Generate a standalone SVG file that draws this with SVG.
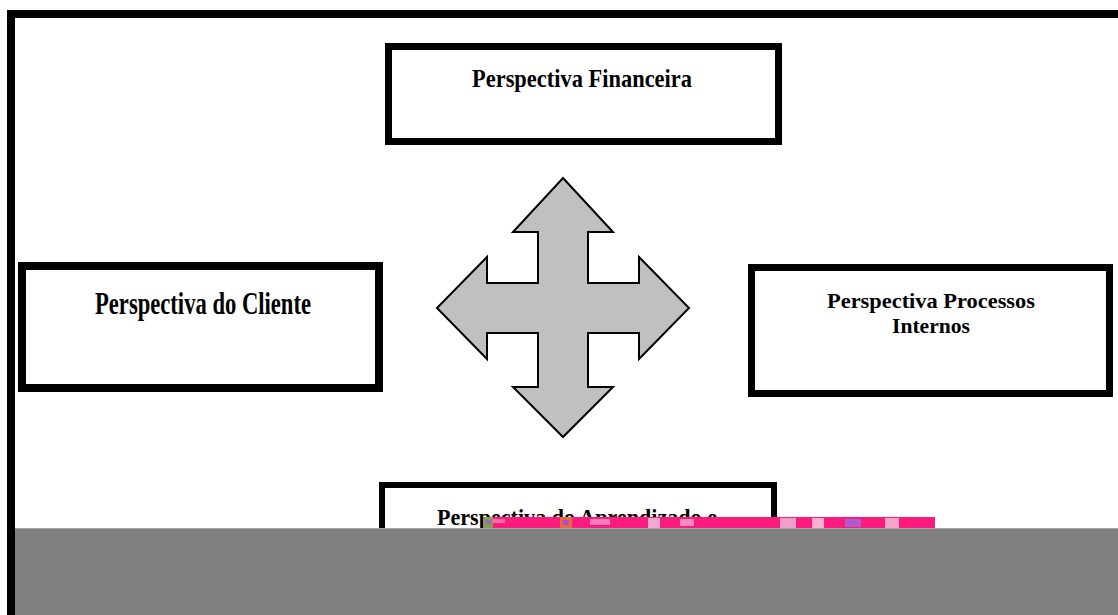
<svg xmlns="http://www.w3.org/2000/svg" width="1118" height="615" viewBox="0 0 1118 615">
<style>
.box{fill:#ffffff;stroke:#000000}
.lbl{font-family:"Liberation Serif","Times New Roman",serif;font-weight:bold;fill:#000000;text-anchor:middle}
</style>
<rect x="0" y="0" width="1118" height="615" fill="#ffffff"/>
<g id="frame">
<rect x="7" y="10" width="1111" height="8" fill="#000000"/>
<rect x="7" y="10" width="8" height="605" fill="#000000"/>
</g>
<g id="connectors">
<path d="M563 178 L613 232 L588 232 L588 283 L639 283 L639 257 L689 308 L639 359 L639 333 L588 333 L588 387 L613 387 L563 437 L513 387 L538 387 L538 333 L487 333 L487 359 L437 308 L487 257 L487 283 L538 283 L538 232 L513 232 Z" fill="#c0c0c0" stroke="#000000" stroke-width="2" stroke-linejoin="miter"/>
</g>
<g id="node-financeira">
<rect class="box" x="388.5" y="46.5" width="390" height="95" stroke-width="7"/>
<text class="lbl" x="582" y="87" font-size="26" textLength="220" lengthAdjust="spacingAndGlyphs">Perspectiva Financeira</text>
</g>
<g id="node-cliente">
<rect class="box" x="22" y="266" width="357" height="122" stroke-width="8"/>
<text class="lbl" x="203" y="314" font-size="31" textLength="216" lengthAdjust="spacingAndGlyphs">Perspectiva do Cliente</text>
</g>
<g id="node-processos">
<rect class="box" x="751.5" y="267.5" width="358" height="126" stroke-width="7"/>
<text class="lbl" x="931" y="308" font-size="22" textLength="208" lengthAdjust="spacingAndGlyphs">Perspectiva Processos</text>
<text class="lbl" x="931" y="333" font-size="22" textLength="78" lengthAdjust="spacingAndGlyphs">Internos</text>
</g>
<g id="node-aprendizado">
<rect class="box" x="382" y="485" width="392" height="110" stroke-width="6"/>
<text class="lbl" x="577" y="525" font-size="24" textLength="280" lengthAdjust="spacingAndGlyphs">Perspectiva do Aprendizado e</text>
</g>
<g id="overlay">
<rect x="483" y="517" width="452" height="12" fill="#fc1a7c"/>
<rect x="483" y="517" width="10" height="12" fill="#8e9a52"/>
<rect x="486" y="520" width="5" height="4" fill="#8a6ad0"/>
<rect x="493" y="519" width="12" height="4" fill="#ff6aa8"/>
<rect x="560" y="517" width="12" height="12" fill="#e86a3a"/>
<rect x="563" y="520" width="6" height="5" fill="#b04ad8"/>
<rect x="590" y="519" width="20" height="6" fill="#ff7ab8"/>
<rect x="648" y="518" width="12" height="10" fill="#f2a8d0"/>
<rect x="680" y="519" width="14" height="7" fill="#ff8ac0"/>
<rect x="780" y="518" width="16" height="10" fill="#f0a0c8"/>
<rect x="812" y="518" width="12" height="10" fill="#ffb0d0"/>
<rect x="845" y="519" width="16" height="8" fill="#b05ad0"/>
<rect x="885" y="518" width="14" height="10" fill="#f6a4cc"/>
<rect x="15" y="528" width="1103" height="1" fill="#a8a8a8"/>
<rect x="15" y="529" width="1103" height="86" fill="#808080"/>
</g>
</svg>
